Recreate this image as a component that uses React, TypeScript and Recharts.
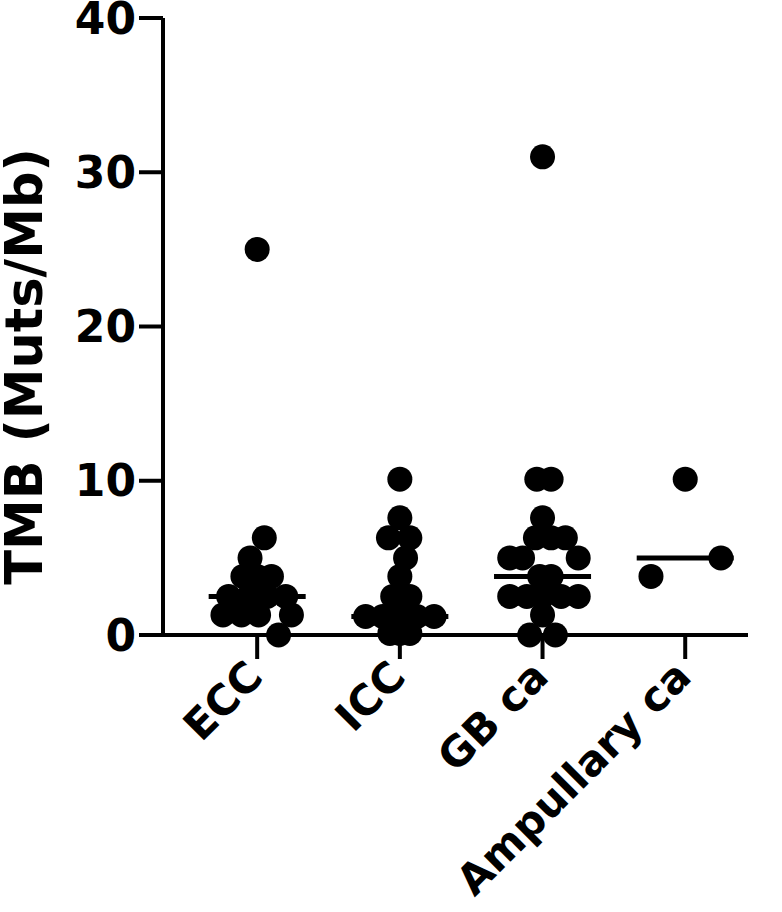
import React from 'react';
import { ScatterChart, Scatter, XAxis, YAxis, ReferenceLine } from 'recharts';

const categories = ['ECC', 'ICC', 'GB ca', 'Ampullary ca'];
const yTicks = [0, 10, 20, 30, 40];

// TMB values per group (Muts/Mb) and their beeswarm horizontal offsets (category units)
const eccValues = [25, 6.3, 5.0, 3.8, 3.8, 3.8, 2.5, 2.5, 2.5, 2.5, 1.3, 1.3, 1.3, 1.3, 0];
const eccJitter = [0, 0.05, -0.05, -0.1, 0, 0.1, -0.2, -0.06, 0.07, 0.2, -0.24, -0.11, 0.01, 0.24, 0.15];

const iccValues = [10.1, 7.6, 6.3, 6.3, 5.0, 3.8, 2.5, 2.5, 1.2, 1.2, 1.2, 1.2, 1.2, 0.1, 0.1, 0.1];
const iccJitter = [0, 0, -0.08, 0.07, 0.04, 0, -0.05, 0.07, -0.24, -0.12, 0, 0.12, 0.24, -0.07, 0, 0.07];

const gbValues = [31, 10.1, 10.1, 7.6, 6.3, 6.3, 6.3, 5.0, 5.0, 5.0, 3.8, 3.8, 2.5, 2.5, 2.5, 2.5, 2.5, 1.3, 0, 0];
const gbJitter = [0, -0.04, 0.06, 0, -0.05, 0.06, 0.16, -0.23, -0.14, 0.25, -0.02, 0.06, -0.23, -0.11, 0, 0.13, 0.25, 0, -0.09, 0.09];

const ampValues = [10.1, 5.0, 3.8];
const ampJitter = [0, 0.25, -0.24];

const medians = [2.5, 1.2, 3.8, 5.0];
const medianHalfWidth = 0.34;

const groups = [
  { values: eccValues, jitter: eccJitter },
  { values: iccValues, jitter: iccJitter },
  { values: gbValues, jitter: gbJitter },
  { values: ampValues, jitter: ampJitter },
];

const groupData = groups.map((g, i) =>
  g.values.map((v, j) => ({ x: i + 1 + g.jitter[j], y: v }))
);

const FONT = '"DejaVu Sans", "Liberation Sans", Arial, sans-serif';

const Dot = (props: any) => {
  const { cx, cy } = props;
  if (cx == null || cy == null) return null;
  return <circle cx={cx} cy={cy} r={12.5} fill="#000" />;
};

const CatTick = (props: any) => {
  const { x, y, payload } = props;
  const ax = x + 8;
  const ay = y + 20;
  return (
    <text
      x={ax}
      y={ay}
      transform={`rotate(-45, ${ax}, ${ay})`}
      textAnchor="end"
      fontFamily={FONT}
      fontWeight="bold"
      fontSize={42}
      fill="#000"
    >
      {categories[payload.value - 1]}
    </text>
  );
};

const YLabel = (props: any) => {
  const vb = props.viewBox || {};
  const cx = 42;
  const cy = (vb.y ?? 18) + (vb.height ?? 617) / 2 + 40;
  return (
    <text
      x={cx}
      y={cy}
      transform={`rotate(-90, ${cx}, ${cy})`}
      textAnchor="middle"
      fontFamily={FONT}
      fontWeight="bold"
      fontSize={51}
      fill="#000"
    >
      TMB (Muts/Mb)
    </text>
  );
};

export default function App() {
  return (
    <div style={{ position: 'absolute', left: 0, top: 0, background: '#fff' }}>
      <ScatterChart width={782} height={912} margin={{ top: 18, right: 34, bottom: 0, left: 0 }}>
        <XAxis
          type="number"
          dataKey="x"
          domain={[0.34, 4.44]}
          ticks={[1, 2, 3, 4]}
          interval={0}
          allowDataOverflow
          height={277}
          axisLine={{ stroke: '#000', strokeWidth: 4 }}
          tickLine={{ stroke: '#000', strokeWidth: 4 }}
          tickSize={24}
          tickMargin={0}
          tick={<CatTick />}
        />
        <YAxis
          type="number"
          dataKey="y"
          domain={[0, 40]}
          ticks={yTicks}
          interval={0}
          width={163}
          axisLine={{ stroke: '#000', strokeWidth: 4 }}
          tickLine={{ stroke: '#000', strokeWidth: 4 }}
          tickSize={24}
          tickMargin={3}
          tick={{ fontFamily: FONT, fontWeight: 'bold', fontSize: 44, fill: '#000' }}
          label={<YLabel />}
        />
        {medians.map((m, i) => (
          <ReferenceLine
            key={`med-${i}`}
            segment={[
              { x: i + 1 - medianHalfWidth, y: m },
              { x: i + 1 + medianHalfWidth, y: m },
            ]}
            stroke="#000"
            strokeWidth={5}
            ifOverflow="visible"
          />
        ))}
        {groupData.map((d, i) => (
          <Scatter
            key={`grp-${i}`}
            data={d}
            fill="#000"
            shape={<Dot />}
            isAnimationActive={false}
          />
        ))}
      </ScatterChart>
    </div>
  );
}
